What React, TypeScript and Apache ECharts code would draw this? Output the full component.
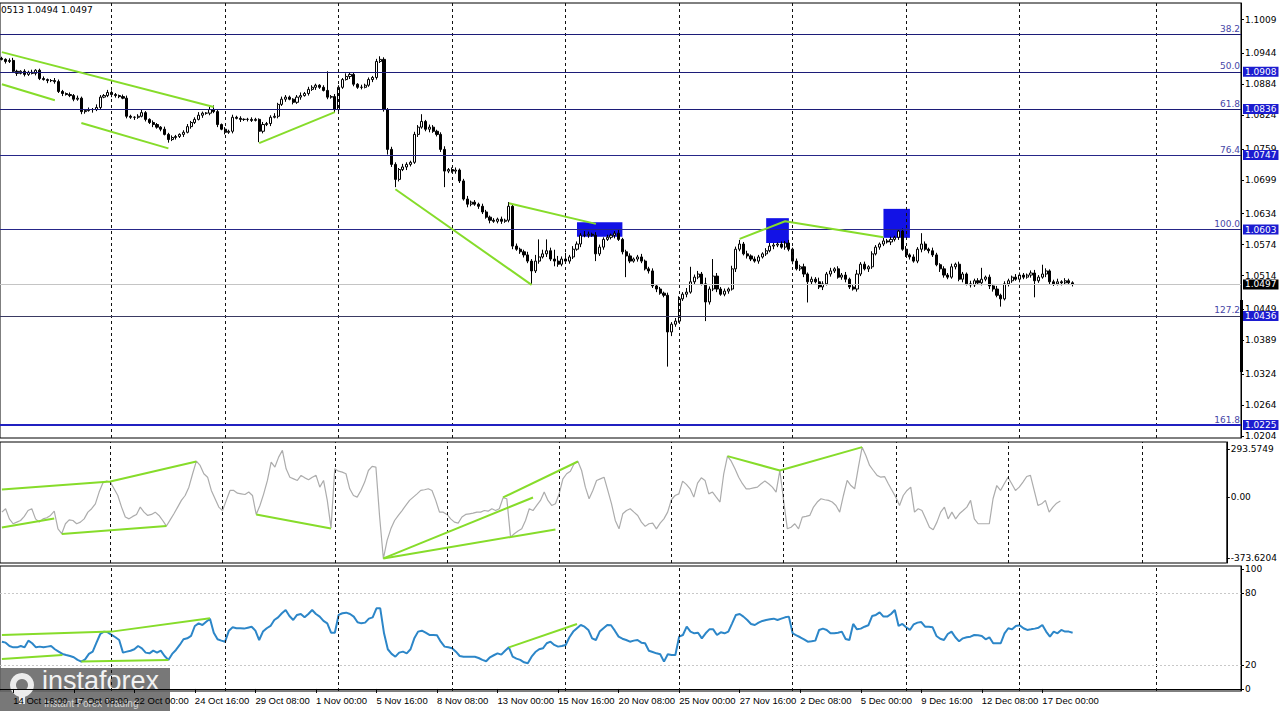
import React, { useEffect, useRef } from 'react';
import * as echarts from 'echarts';

// ---------- DATA ----------
const firstOpen = 1.0934;
const closes = [
  1.0932,1.0928,1.0930,1.0909,1.0905,1.0909,1.0903,1.0907,1.0905,1.0911,
  1.0895,1.0893,1.0891,1.0891,1.0889,1.0870,1.0866,1.0864,1.0862,1.0855,
  1.0857,1.0831,1.0833,1.0835,1.0835,1.0839,1.0859,1.0862,1.0868,1.0864,
  1.0862,1.0860,1.0857,1.0822,1.0820,1.0820,1.0822,1.0829,1.0816,1.0810,
  1.0806,1.0801,1.0797,1.0787,1.0777,1.0781,1.0783,1.0787,1.0791,1.0802,
  1.0810,1.0816,1.0824,1.0828,1.0828,1.0835,1.0831,1.0806,1.0797,1.0791,
  1.0793,1.0820,1.0818,1.0816,1.0816,1.0816,1.0814,1.0816,1.0793,1.0806,
  1.0808,1.0820,1.0822,1.0845,1.0855,1.0859,1.0855,1.0849,1.0859,1.0862,
  1.0866,1.0874,1.0878,1.0882,1.0878,1.0872,1.0859,1.0860,1.0835,1.0878,
  1.0893,1.0899,1.0903,1.0884,1.0878,1.0878,1.0882,1.0893,1.0897,1.0928,
  1.0932,1.0835,1.0758,1.0729,1.0700,1.0719,1.0724,1.0729,1.0733,1.0787,
  1.0801,1.0812,1.0797,1.0801,1.0793,1.0787,1.0758,1.0716,1.0719,1.0716,
  1.0718,1.0697,1.0662,1.0652,1.0656,1.0652,1.0648,1.0637,1.0627,1.0621,
  1.0619,1.0623,1.0619,1.0621,1.0648,1.0571,1.0565,1.0560,1.0554,1.0542,
  1.0523,1.0542,1.0550,1.0556,1.0562,1.0546,1.0542,1.0536,1.0546,1.0542,
  1.0550,1.0565,1.0575,1.0592,1.0592,1.0594,1.0592,1.0556,1.0569,1.0584,
  1.0588,1.0592,1.0596,1.0584,1.0560,1.0552,1.0542,1.0546,1.0550,1.0542,
  1.0527,1.0523,1.0494,1.0488,1.0480,1.0476,1.0405,1.0420,1.0426,1.0469,
  1.0478,1.0482,1.0502,1.0511,1.0517,1.0498,1.0463,1.0488,1.0513,1.0488,
  1.0478,1.0484,1.0488,1.0527,1.0565,1.0575,1.0556,1.0552,1.0546,1.0542,
  1.0550,1.0556,1.0562,1.0571,1.0573,1.0575,1.0569,1.0577,1.0565,1.0542,
  1.0527,1.0531,1.0517,1.0502,1.0507,1.0502,1.0492,1.0498,1.0517,1.0523,
  1.0527,1.0511,1.0515,1.0507,1.0492,1.0488,1.0517,1.0536,1.0527,1.0531,
  1.0556,1.0569,1.0575,1.0581,1.0579,1.0584,1.0588,1.0600,1.0565,1.0554,
  1.0550,1.0542,1.0565,1.0575,1.0565,1.0562,1.0554,1.0535,1.0527,1.0515,
  1.0511,1.0531,1.0536,1.0507,1.0517,1.0498,1.0496,1.0504,1.0500,1.0507,
  1.0511,1.0494,1.0488,1.0476,1.0469,1.0498,1.0504,1.0511,1.0507,1.0515,
  1.0511,1.0515,1.0519,1.0504,1.0511,1.0517,1.0523,1.0502,1.0498,1.0502,
  1.0500,1.0504,1.0500,1.0497,
];
// upper / lower wick lengths in pips
const upWick = [
  3,2,4,5,3,2,4,3,5,2, 3,4,2,3,5,4,3,2,4,3, 5,3,2,4,3,6,4,3,5,4, 3,2,4,5,3,2,4,6,3,2,
  4,3,2,5,3,4,3,2,4,5, 3,4,6,3,2,5,8,3,2,4, 3,5,3,4,2,3,4,3,2,5, 3,4,6,3,5,4,3,2,4,6,
  3,5,4,3,2,4,37,3,5,4, 3,6,4,3,2,5,3,4,3,5, 6,4,3,5,4,3,6,4,3,5, 4,14,3,5,4,3,4,6,3,4,
  5,3,4,6,3,4,3,5,4,3, 4,3,5,3,8,4,5,3,4,6, 4,12,34,8,22,6,18,10,5,12, 4,6,5,4,8,5,3,6,5,4,
  5,3,4,6,3,4,5,3,4,6, 3,4,5,3,4,3,5,4,6,5, 4,8,29,5,6,4,12,5,33,6, 4,5,3,6,5,8,4,6,3,5,
  4,3,5,6,4,3,5,4,6,3, 5,4,6,3,5,4,8,5,4,6, 3,5,4,6,3,5,8,4,5,3, 5,4,3,6,4,5,3,4,5,6,
  3,5,4,21,5,3,6,4,3,5, 4,6,3,5,4,3,6,4,5,22, 3,5,4,6,3,5,4,3,6,5, 4,3,5,6,4,18,5,3,4,6,
  3,5,4,3,
];
const dnWick = [
  2,4,3,3,5,2,4,3,2,4, 3,2,5,3,4,3,5,2,3,4, 3,5,4,2,6,3,4,2,3,5, 4,3,2,4,3,5,3,2,4,3,
  5,3,4,2,6,3,4,3,5,2, 4,3,2,5,3,4,3,5,2,4, 3,4,2,5,3,4,3,2,21,4, 3,5,2,4,3,5,2,4,3,5,
  2,4,3,5,3,2,4,3,6,4, 3,2,5,4,3,4,2,3,5,4, 3,4,10,5,15,4,3,6,4,3, 5,3,4,6,3,4,5,31,4,3,
  5,4,3,6,4,3,5,4,3,6, 3,4,5,3,4,6,3,4,5,4, 25,4,5,3,6,4,10,5,4,3, 5,4,3,6,4,5,3,14,4,5,
  3,4,6,3,5,41,4,3,5,4, 3,5,4,6,3,4,67,8,5,3, 4,6,3,5,4,3,37,5,4,6, 3,4,5,3,6,4,3,5,4,3,
  5,3,4,3,6,4,3,5,4,6, 3,4,6,40,5,3,4,6,3,5, 4,3,5,6,4,3,5,4,3,6, 4,3,5,4,3,6,4,5,3,4,
  5,3,4,6,3,5,4,3,6,5, 4,3,5,4,6,3,5,4,3,5, 4,6,5,4,15,3,5,4,3,6, 4,3,5,32,4,3,6,5,4,3,
  5,4,3,4,
];
const cci = [
  -93,-72,-134,-164,-154,-144,-119,-83,-72,-134,
  -154,-134,-127,-113,-87,-195,-225,-164,-140,-144,
  -164,-154,-134,-93,-72,-42,30,85,97,91,
  50,9,-62,-123,-134,-119,-107,-62,-93,-113,
  -107,-93,-113,-144,-178,-140,-103,-62,-21,9,
  60,142,219,193,142,121,40,-11,-62,-83,
  -21,40,40,23,19,15,30,9,-107,-52,
  19,101,213,183,244,285,172,121,111,101,
  132,117,105,121,132,60,101,-21,-189,172,
  158,152,142,50,9,-1,40,91,162,187,
  183,-123,-378,-266,-195,-144,-113,-83,-52,-21,
  -1,19,40,44,50,40,-21,-93,-93,-107,
  -134,-154,-160,-123,-107,-103,-99,-93,-93,-83,
  -87,-72,-83,-72,-5,-11,-246,-225,-209,-195,
  -144,-72,-83,-52,-21,30,-21,-52,-42,19,
  111,142,158,203,219,162,60,-11,40,101,
  111,121,40,-42,-144,-195,-103,-83,-72,-93,
  -113,-154,-180,-164,-160,-195,-160,-134,-93,-17,
  9,19,97,77,50,-1,85,117,101,19,
  30,-1,-31,142,250,219,172,121,81,50,
  50,56,60,81,97,81,60,30,162,-21,
  -195,-185,-164,-195,-123,-119,-113,-62,-31,-11,
  -17,-21,-31,-52,-93,9,101,70,50,183,
  305,254,193,162,132,121,125,81,40,-1,
  -52,9,40,60,-93,-72,-83,-134,-185,-201,
  -154,-93,-62,-134,-93,-134,-103,-83,-62,-21,
  -134,-164,-164,-164,-164,-11,70,40,81,121,
  81,40,60,91,125,132,40,-52,-42,-21,
  -93,-62,-38,-25,
];
const rsi = [
  39.4,38.6,35.8,34.7,34.7,35.8,34.7,40.3,38.1,34.7,
  35.3,34.7,35.3,35.8,33.1,31.1,29.2,28.3,27.5,26.4,
  24.2,22.8,24.7,29.2,31.1,38.6,45.8,47.8,47.2,45.0,
  43.1,40.8,30.3,31.1,31.9,33.1,35.8,33.9,30.3,29.7,
  31.9,30.3,31.9,27.5,24.2,29.2,32.5,36.7,41.4,42.2,
  44.2,52.5,54.7,53.3,56.1,58.6,46.9,41.4,40.3,39.4,
  48.6,51.4,50.6,50.6,50.3,51.1,51.9,48.6,40.8,47.8,
  50.6,52.5,57.5,59.7,63.1,65.8,60.8,57.5,61.7,62.5,
  59.7,62.5,65.8,62.5,60.3,56.7,54.7,46.9,46.9,61.7,
  63.1,63.6,62.5,60.3,55.6,54.7,55.3,58.6,59.7,67.2,
  67.2,46.4,33.1,29.2,26.9,30.3,31.1,29.7,33.1,42.2,
  47.8,48.6,46.9,45.0,45.0,44.7,39.4,35.3,34.7,33.9,
  31.1,27.5,26.9,26.9,26.9,26.9,25.8,24.2,23.1,26.4,
  28.1,29.7,28.6,31.9,34.7,26.9,25.3,24.2,22.2,21.4,
  26.9,30.8,33.1,33.9,38.1,39.4,36.7,35.3,35.8,36.7,
  43.1,47.8,50.6,53.3,51.9,49.2,42.2,40.8,47.8,50.6,
  53.3,53.1,48.6,43.6,41.9,40.8,39.4,40.3,40.8,38.6,
  38.1,31.9,30.8,29.7,28.9,22.8,28.9,28.3,28.3,43.6,
  45.0,51.9,47.8,46.4,46.9,42.2,46.4,49.7,49.7,45.0,
  47.2,46.4,47.8,54.7,61.7,62.5,60.3,57.5,54.2,53.3,
  55.3,56.7,57.5,58.1,58.6,57.5,58.6,59.7,60.3,46.4,
  44.7,43.1,41.4,39.4,39.7,40.3,49.2,50.3,49.2,46.4,
  46.4,46.9,47.8,41.7,40.8,54.2,49.7,50.3,51.9,53.1,
  60.8,61.7,63.9,60.3,60.3,62.5,65.8,52.5,54.2,51.4,
  49.2,53.9,55.3,55.8,51.9,51.9,51.4,44.2,41.9,40.8,
  45.8,47.8,43.1,39.7,42.2,43.1,43.6,45.0,44.7,44.2,
  41.4,43.1,38.1,38.1,38.1,46.4,50.6,49.7,52.5,53.1,
  50.6,49.2,49.7,50.3,51.1,53.3,47.8,43.6,47.8,46.4,
  49.2,47.8,47.8,46.9,
];

const totalBars = 328;
const labelBars = [3, 19, 35, 51, 67, 83, 99, 115, 131, 147, 163, 179, 195, 211, 227, 243, 259, 275];
const labelTexts = ['14 Oct 16:00', '17 Oct 08:00', '22 Oct 00:00', '24 Oct 16:00', '29 Oct 08:00', '1 Nov 00:00',
  '5 Nov 16:00', '8 Nov 08:00', '13 Nov 00:00', '15 Nov 16:00', '20 Nov 08:00', '25 Nov 00:00', '27 Nov 16:00',
  '2 Dec 08:00', '5 Dec 00:00', '9 Dec 16:00', '12 Dec 08:00', '17 Dec 00:00'];
const separatorBars = [29, 59, 89, 119, 149, 179, 209, 239, 269, 305];

const priceTicks = [1.1009, 1.0944, 1.0884, 1.0824, 1.0759, 1.0699, 1.0634, 1.0574, 1.0514, 1.0449, 1.0389, 1.0324, 1.0264, 1.0204];
const cciTicks = [-373.6204, 0, 293.5749];
const rsiTicks = [0, 20, 80, 100];
const rsiLevels = [20, 80];

const fibRatios = ['38.2', '50.0', '61.8', '76.4', '100.0', '127.2', '161.8'];
const fibPrices = [1.0981, 1.0908, 1.0836, 1.0747, 1.0603, 1.0436, 1.0225];
const fibBoxed = [false, true, true, true, true, true, true];
const currentPrice = 1.0497;
const headerText = '0513 1.0494 1.0497';

const priceTrends = [
  [[0, 1.0946], [56, 1.0840]],
  [[0, 1.0884], [14, 1.0853]],
  [[21, 1.0809], [44, 1.0760]],
  [[68, 1.0770], [88, 1.0830]],
  [[104, 1.0681], [140, 1.0496]],
  [[134, 1.0654], [157, 1.0614]],
  [[195, 1.0585], [207, 1.0619], [233, 1.0588]],
];
const signalBoxes = [
  [[152, 1.0617], [164, 1.0589]],
  [[202, 1.0625], [208, 1.0577]],
  [[233, 1.0643], [240, 1.0587]],
];
const cciTrends = [
  [[0, 46], [29, 95], [52, 217]],
  [[0, -187], [14, -132]],
  [[16, -227], [44, -178]],
  [[68, -107], [88, -193]],
  [[102, -376], [142, -3]],
  [[102, -376], [148, -199]],
  [[134, -3], [154, 217]],
  [[194, 250], [208, 162], [230, 305]],
];
const rsiTrends = [
  [[0, 45.0], [29, 47.8], [55, 58.9]],
  [[0, 25.0], [16, 28.3]],
  [[21, 22.8], [44, 24.2]],
  [[134, 34.7], [152, 54.2]],
];

// ---------- STYLES ----------
const PIP = 0.0001;
const FONT = 'DejaVu Sans';
const XFONT = 'Liberation Sans';
const fibColors = ['#1c1c78', '#1c1c78', '#1c1c78', '#262688', '#262688', '#3a3a62', '#2020c0'];
const fibWidths = [1, 1, 1, 1, 1, 1, 2];
const GREEN = '#86dc2a';
const BOX_BLUE = '#1c1cd0';

export default function App() {
  const ref = useRef<HTMLDivElement>(null);

  useEffect(() => {
    const chart = echarts.init(ref.current!, null, { renderer: 'svg' });
    const cats = Array.from({ length: totalBars }, (_, i) => String(i));
    const labelMap = new Map<number, string>(labelBars.map((b, i) => [b, labelTexts[i]]));

    const candleData = closes.map((c, i) => {
      const o = i === 0 ? firstOpen : closes[i - 1];
      const hi = Math.max(o, c) + upWick[i] * PIP;
      const lo = Math.min(o, c) - dnWick[i] * PIP;
      return [o, c, lo, hi];
    });

    const sepLines = separatorBars.map((b) => ({
      xAxis: b,
      lineStyle: { color: '#111', type: [3, 3], width: 1 },
      label: { show: false },
    }));

    const fibLines: any[] = [];
    fibPrices.forEach((p, i) => {
      fibLines.push({
        yAxis: p,
        lineStyle: { color: fibColors[i], width: fibWidths[i], type: 'solid' },
        label: {
          show: true, position: 'insideEndTop', formatter: fibRatios[i],
          color: '#4646a6', fontSize: 9, fontFamily: FONT, distance: 1,
        },
      });
      if (fibBoxed[i]) {
        fibLines.push({
          yAxis: p,
          lineStyle: { color: 'rgba(0,0,0,0)', width: 1 },
          label: {
            show: true, position: 'end', formatter: p.toFixed(4), distance: 2,
            backgroundColor: BOX_BLUE, color: '#fff', fontSize: 9, fontFamily: FONT,
            padding: [1, 2, 0, 2],
          },
        });
      }
    });
    fibLines.push({
      yAxis: currentPrice,
      lineStyle: { color: '#c4c4c4', width: 1, type: 'solid' },
      label: {
        show: true, position: 'end', formatter: currentPrice.toFixed(4), distance: 2,
        backgroundColor: '#000', color: '#fff', fontSize: 9, fontFamily: FONT, padding: [1, 2, 0, 2],
      },
    });

    const trendSeries = (sets: number[][][], axis: number) =>
      sets.map((d) => ({
        type: 'line', xAxisIndex: axis, yAxisIndex: axis, data: d, symbol: 'none',
        lineStyle: { color: GREEN, width: 2 }, silent: true, z: 6,
      }));

    const yLabel = { color: '#000', fontSize: 9, fontFamily: FONT, margin: 4 };
    const grids = [
      { left: -1, width: 1242, top: 3, height: 435 },
      { left: -1, width: 1242, top: 442, height: 121 },
      { left: -1, width: 1242, top: 566, height: 125 },
    ].map((g) => ({ ...g, show: true, borderColor: '#000', borderWidth: 1, backgroundColor: 'transparent' }));

    const hiddenX = (gi: number) => ({
      type: 'category', gridIndex: gi, data: cats, boundaryGap: true,
      axisLine: { show: false }, axisTick: { show: false }, axisLabel: { show: false }, splitLine: { show: false },
    });

    const option: any = {
      animation: false,
      backgroundColor: '#fff',
      textStyle: { fontFamily: FONT },
      grid: grids,
      xAxis: [
        hiddenX(0),
        hiddenX(1),
        {
          type: 'category', gridIndex: 2, data: cats, boundaryGap: true,
          axisLine: { show: true, lineStyle: { color: '#000' } },
          axisTick: {
            show: true, alignWithLabel: true, length: 4, lineStyle: { color: '#000' },
            interval: (i: number) => labelMap.has(i),
          },
          axisLabel: {
            show: true, interval: (i: number) => labelMap.has(i),
            formatter: (v: string) => labelMap.get(Number(v)) ?? '',
            showMinLabel: true, showMaxLabel: true, hideOverlap: false,
            align: 'left', margin: 4, fontSize: 9.5, fontFamily: XFONT, color: '#000',
          },
          splitLine: { show: false },
        },
      ],
      yAxis: [
        {
          type: 'value', gridIndex: 0, position: 'right', min: 1.02, max: 1.1041,
          splitLine: { show: false },
          axisLine: { show: true, lineStyle: { color: '#000' } },
          axisTick: { show: true, length: 3, customValues: priceTicks, lineStyle: { color: '#000' } },
          axisLabel: { ...yLabel, customValues: priceTicks, formatter: (v: number) => v.toFixed(4) },
        },
        {
          type: 'value', gridIndex: 1, position: 'right', min: -404.2, max: 336.4,
          splitLine: { show: false },
          axisLine: { show: true, lineStyle: { color: '#000' } },
          axisTick: { show: true, length: 3, customValues: cciTicks, lineStyle: { color: '#000' } },
          axisLabel: { ...yLabel, customValues: cciTicks, formatter: (v: number) => (v === 0 ? '0.00' : v.toFixed(4)) },
        },
        {
          type: 'value', gridIndex: 2, position: 'right', min: -1.7, max: 102.5,
          splitLine: { show: false },
          axisLine: { show: true, lineStyle: { color: '#000' } },
          axisTick: { show: true, length: 3, customValues: rsiTicks, lineStyle: { color: '#000' } },
          axisLabel: { ...yLabel, customValues: rsiTicks, formatter: (v: number) => String(v) },
        },
      ],
      series: [
        {
          type: 'candlestick', xAxisIndex: 0, yAxisIndex: 0, data: candleData, barWidth: 2.6,
          itemStyle: { color: '#fff', color0: '#000', borderColor: '#000', borderColor0: '#000', borderWidth: 1 },
          markLine: { symbol: ['none', 'none'], silent: true, precision: 4, data: [...sepLines, ...fibLines] },
          markArea: {
            silent: true,
            itemStyle: { color: '#1212e6', opacity: 1 },
            data: signalBoxes.map(([a, b]) => [{ xAxis: a[0], yAxis: a[1] }, { xAxis: b[0], yAxis: b[1] }]),
          },
          z: 3,
        },
        ...trendSeries(priceTrends, 0),
        {
          type: 'line', xAxisIndex: 1, yAxisIndex: 1, data: cci, symbol: 'none',
          lineStyle: { color: '#acacac', width: 1.2 }, silent: true,
          markLine: { symbol: ['none', 'none'], silent: true, precision: 4, data: sepLines },
        },
        ...trendSeries(cciTrends, 1),
        {
          type: 'line', xAxisIndex: 2, yAxisIndex: 2, data: rsi, symbol: 'none',
          lineStyle: { color: '#2c86c8', width: 2 }, silent: true,
          markLine: {
            symbol: ['none', 'none'], silent: true, precision: 4,
            data: [
              ...sepLines,
              ...rsiLevels.map((l) => ({ yAxis: l, lineStyle: { color: '#c8c8c8', type: [2, 2], width: 1 }, label: { show: false } })),
            ],
          },
        },
        ...trendSeries(rsiTrends, 2),
      ],
      graphic: [
        {
          type: 'text', left: 1, top: 5, z: 20,
          style: { text: headerText, font: `9px "${FONT}"`, fill: '#000' },
        },
        { type: 'rect', shape: { x: 1240, y: 300, width: 3, height: 72 }, style: { fill: '#000' }, z: 20 },
        {
          type: 'group', z: 30,
          children: [
            { type: 'rect', shape: { x: 0, y: 668, width: 170, height: 43 }, style: { fill: 'rgba(98,98,98,0.86)' } },
            { type: 'ring', shape: { cx: 22, cy: 685, r: 12, r0: 6 }, style: { fill: '#ececec' } },
            { type: 'rect', shape: { x: 19, y: 690, width: 6, height: 14 }, style: { fill: '#ececec' } },
            {
              type: 'text', x: 42, y: 667,
              style: { text: 'instaforex', font: '27px "Liberation Sans"', fill: '#f2f2f2' },
            },
            {
              type: 'text', x: 44, y: 698,
              style: { text: 'Instant Forex Trading', font: '10px "Liberation Sans"', fill: '#d4d4d4' },
            },
          ],
        },
      ],
    };

    chart.setOption(option);
    return () => chart.dispose();
  }, []);

  return (
    <div
      ref={ref}
      style={{ position: 'fixed', left: 0, top: 0, width: 1280, height: 711, background: '#fff' }}
    />
  );
}
